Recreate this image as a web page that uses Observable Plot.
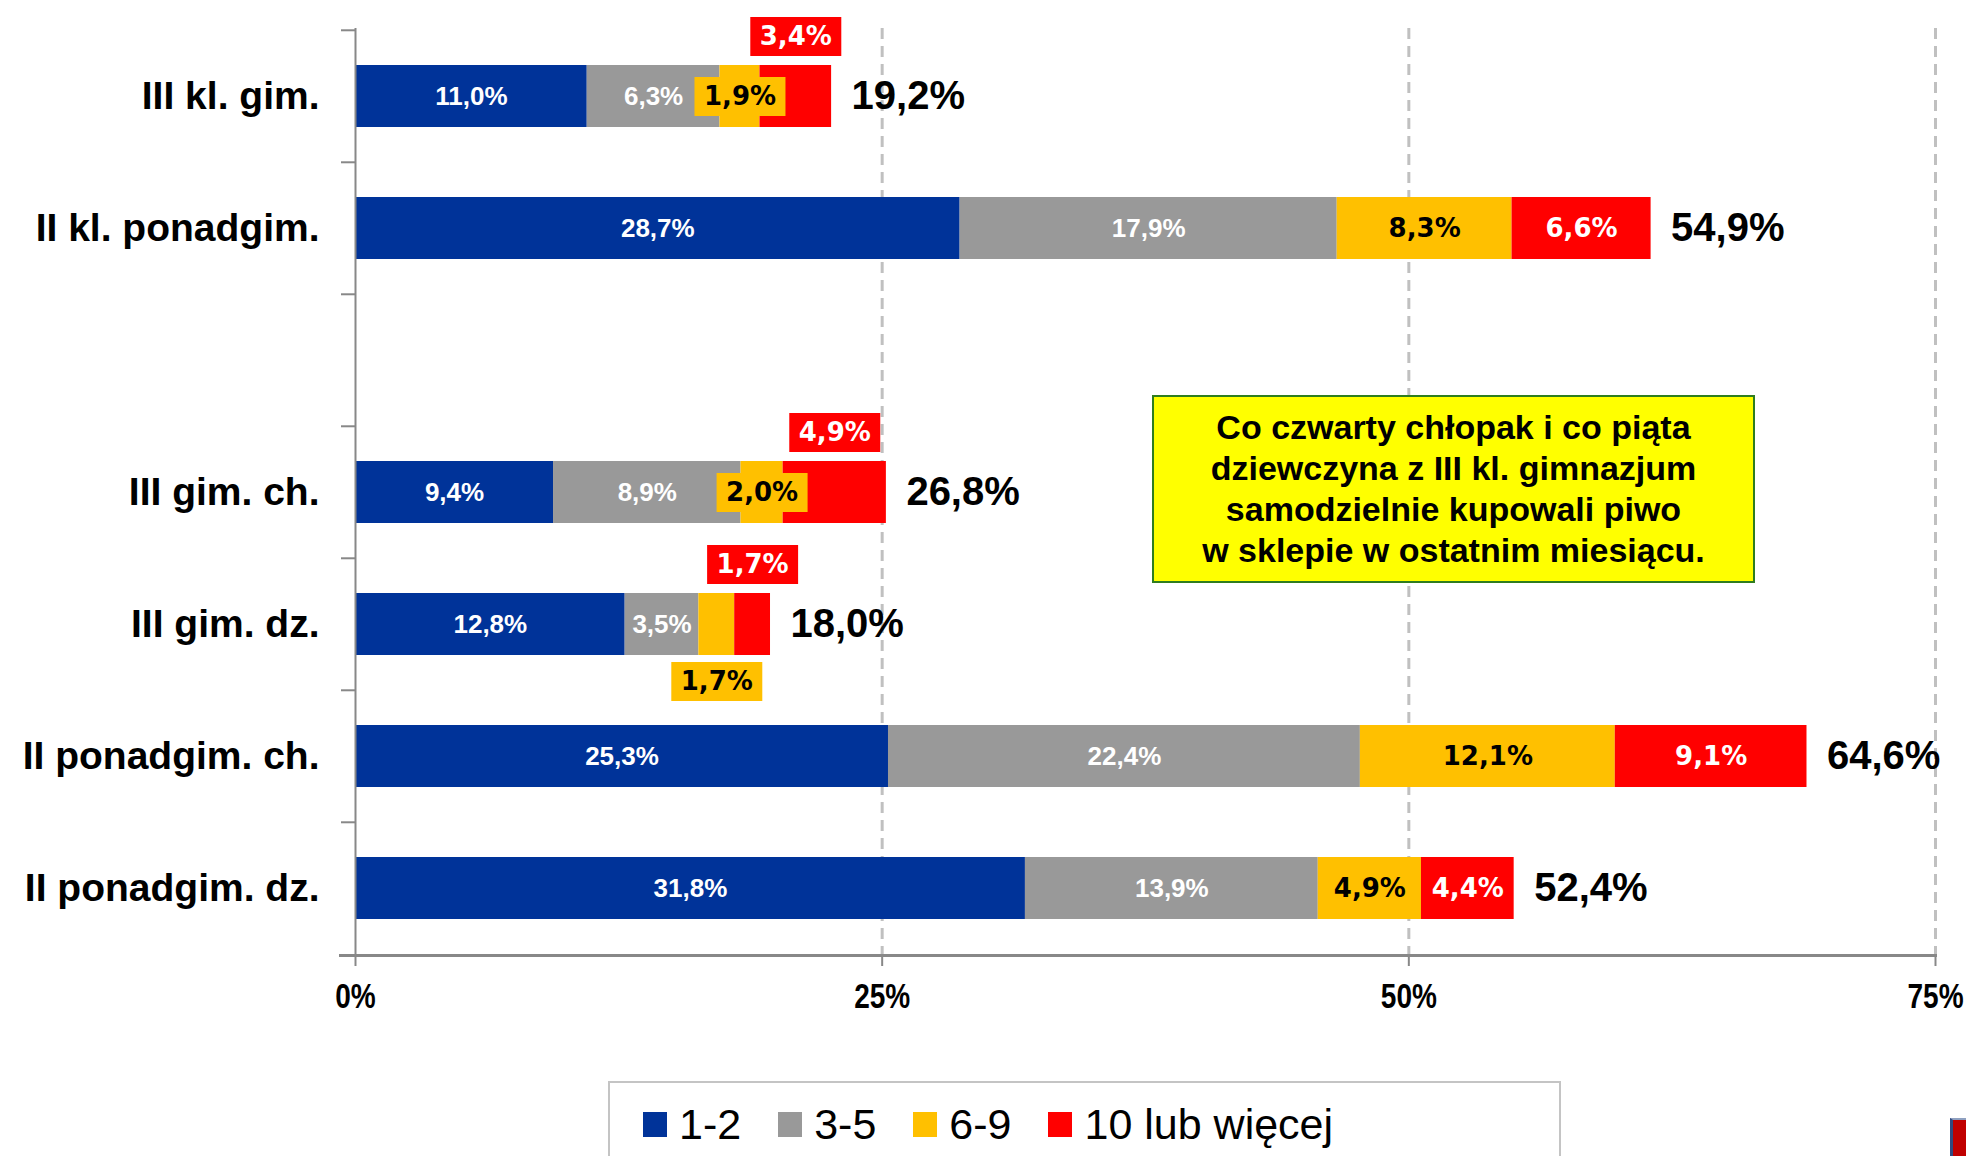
<!DOCTYPE html>
<html>
<head>
<meta charset="utf-8">
<script src="https://cdn.jsdelivr.net/npm/d3@7"></script>
<script src="https://cdn.jsdelivr.net/npm/@observablehq/plot@0.6"></script>
<style>
  html, body { margin: 0; padding: 0; background: #fff; overflow: hidden; }
  #wrap { position: relative; width: 1966px; height: 1156px; }
  #note {
    position: absolute; left: 1152px; top: 395px; width: 599px; height: 184px;
    background: #ffff00; border: 2px solid #2f7d1e;
    display: flex; align-items: center; justify-content: center; text-align: center;
    font: bold 34px/41px "Liberation Sans", Arial, sans-serif; color: #000;
  }
  #legend {
    position: absolute; left: 608px; top: 1081px; width: 953px; height: 120px;
    border: 2px solid #c4c4c4; border-bottom: none; box-sizing: border-box;
  }
  #legend .items { position: absolute; left: 33px; top: 16px; display: flex; align-items: center; }
  #legend .sw { width: 24px; height: 25px; margin-right: 12px; }
  #legend .lb { font: 43px "Liberation Sans", Arial, sans-serif; color: #000; margin-right: 37px; line-height: 50px; }
  #corner { position: absolute; left: 1950px; top: 1118px; width: 14px; height: 38px;
    background: #c00000; border-left: 3px solid #2f4a80; border-top: 2px solid #8fa0c0; }
</style>
</head>
<body>
<div id="wrap">
  <div id="chart"></div>
  <div id="note"></div>
  <div id="legend"><div class="items"></div></div>
  <div id="corner"></div>
</div>
<script>
// ---- data ----
const categories = ["III kl. gim.", "II kl. ponadgim.", " ", "III gim. ch.", "III gim. dz.", "II ponadgim. ch.", "II ponadgim. dz."];
const seriesNames = ["1-2", "3-5", "6-9", "10 lub więcej"];
const seriesColors = ["#003399", "#999999", "#ffc000", "#ff0000"];
const values12 = [11.0, 28.7, null, 9.4, 12.8, 25.3, 31.8];
const values35 = [6.3, 17.9, null, 8.9, 3.5, 22.4, 13.9];
const values69 = [1.9, 8.3, null, 2.0, 1.7, 12.1, 4.9];
const values10 = [3.4, 6.6, null, 4.9, 1.7, 9.1, 4.4];
const totalLabels = ["19,2%", "54,9%", "", "26,8%", "18,0%", "64,6%", "52,4%"];
// label placement chosen in the original chart (in = inside bar, box = boxed on bar, above/below = boxed outside)
const place12 = ["in", "in", null, "in", "in", "in", "in"];
const place35 = ["in", "in", null, "in", "in", "in", "in"];
const place69 = ["box", "in", null, "box", "below", "in", "in"];
const place10 = ["above", "in", null, "above", "above", "in", "in"];
const xTicks = [0, 25, 50, 75];
const noteText = ["Co czwarty chłopak i co piąta", "dziewczyna z III kl. gimnazjum", "samodzielnie kupowali piwo", "w sklepie w ostatnim miesiącu."];

// ---- build table ----
const seriesValues = [values12, values35, values69, values10];
const seriesPlaces = [place12, place35, place69, place10];
const rows = [];
const totals = [];
categories.forEach((cat, i) => {
  let acc = 0;
  seriesNames.forEach((s, j) => {
    const v = seriesValues[j][i];
    if (v == null) return;
    rows.push({cat, series: s, si: j, value: v, x0: acc, x1: acc + v, mid: acc + v / 2, place: seriesPlaces[j][i]});
    acc += v;
  });
  if (totalLabels[i]) totals.push({cat, end: acc, label: totalLabels[i]});
});
const fmt = d => d.value.toFixed(1).replace(".", ",") + "%";

const W = 1966, H = 1081;
const mTop = 28, mBottom = H - 955, mLeft = 355, mRight = 31;
const step = (H - mTop - mBottom) / categories.length;
const arial = "'Liberation Sans', Arial, sans-serif";
const verdana = "'DejaVu Sans', Verdana, sans-serif";

const boxSym = {draw(ctx) { ctx.rect(-45.5, -19.5, 91, 39); }};

const chart = Plot.plot({
  width: W, height: H,
  marginTop: mTop, marginBottom: mBottom, marginLeft: mLeft, marginRight: mRight,
  style: {fontFamily: arial, background: "#fff"},
  x: {domain: [0, 75], label: null},
  y: {domain: categories, label: null, paddingInner: 0.532, paddingOuter: 0.266},
  color: {domain: seriesNames, range: seriesColors},
  marks: [
    Plot.ruleX([25, 50, 75], {stroke: "#c0c0c0", strokeWidth: 3, strokeDasharray: "11,7"}),
    Plot.barX(rows, {x1: "x0", x2: "x1", y: "cat", fill: "series"}),
    // axis lines
    Plot.ruleX([0], {stroke: "#888", strokeWidth: 2}),
    Plot.frame({anchor: "bottom", stroke: "#888", strokeWidth: 3, insetLeft: -15}),
    Plot.axisY({tickSize: 14, tickFormat: () => "", dy: -step / 2, stroke: "#888", strokeWidth: 2, label: null}),
    Plot.axisY({tickSize: 0, tickPadding: 36, fontSize: 39, fontWeight: "bold", fill: "#000", label: null, fontFamily: arial}),
    Plot.axisX({ticks: xTicks, tickFormat: d => d + "%", tickSize: 11, tickPadding: 17, stroke: "#888", strokeWidth: 2,
      fontSize: 35, fontWeight: "bold", fill: "#000", label: null, fontFamily: arial, ariaLabel: "x-axis"}),
    // inside labels
    Plot.text(rows, {filter: d => d.place === "in" && d.si < 2, x: "mid", y: "cat", text: fmt, fill: "#fff",
      fontSize: 26, fontWeight: "bold", fontFamily: arial}),
    Plot.text(rows, {filter: d => d.place === "in" && d.si >= 2, x: "mid", y: "cat", text: fmt,
      fill: d => d.si === 2 ? "#000" : "#fff", fontSize: 26, fontWeight: "bold", fontFamily: verdana}),
    // boxed labels
    Plot.dot(rows, {filter: d => d.place === "box", x: "mid", y: "cat", symbol: boxSym, fill: seriesColors[2], stroke: "none"}),
    Plot.dot(rows, {filter: d => d.place === "below", x: "mid", y: "cat", dy: 57, symbol: boxSym, fill: seriesColors[2], stroke: "none"}),
    Plot.dot(rows, {filter: d => d.place === "above", x: "mid", y: "cat", dy: -60, symbol: boxSym, fill: seriesColors[3], stroke: "none"}),
    Plot.text(rows, {filter: d => d.place === "box", x: "mid", y: "cat", text: fmt, fill: "#000", fontSize: 26, fontWeight: "bold", fontFamily: verdana}),
    Plot.text(rows, {filter: d => d.place === "below", x: "mid", y: "cat", dy: 57, text: fmt, fill: "#000", fontSize: 26, fontWeight: "bold", fontFamily: verdana}),
    Plot.text(rows, {filter: d => d.place === "above", x: "mid", y: "cat", dy: -60, text: fmt, fill: "#fff", fontSize: 26, fontWeight: "bold", fontFamily: verdana}),
    // totals
    Plot.text(totals, {x: "end", y: "cat", text: "label", textAnchor: "start", dx: 20, fill: "#000",
      fontSize: 40, fontWeight: "bold", fontFamily: arial})
  ]
});
document.getElementById("chart").append(chart);

// narrow the x tick labels (the original uses a condensed face)
chart.querySelectorAll("g[aria-label='x-axis tick label'] text").forEach(t => {
  const tr = t.getAttribute("transform") || "";
  t.setAttribute("transform", tr + " scale(0.8,1)");
});

document.getElementById("note").innerHTML = noteText.join("<br>");

const items = document.querySelector("#legend .items");
seriesNames.forEach((s, j) => {
  const sw = document.createElement("div"); sw.className = "sw"; sw.style.background = seriesColors[j];
  const lb = document.createElement("div"); lb.className = "lb"; lb.textContent = s;
  items.append(sw, lb);
});
</script>
</body>
</html>
